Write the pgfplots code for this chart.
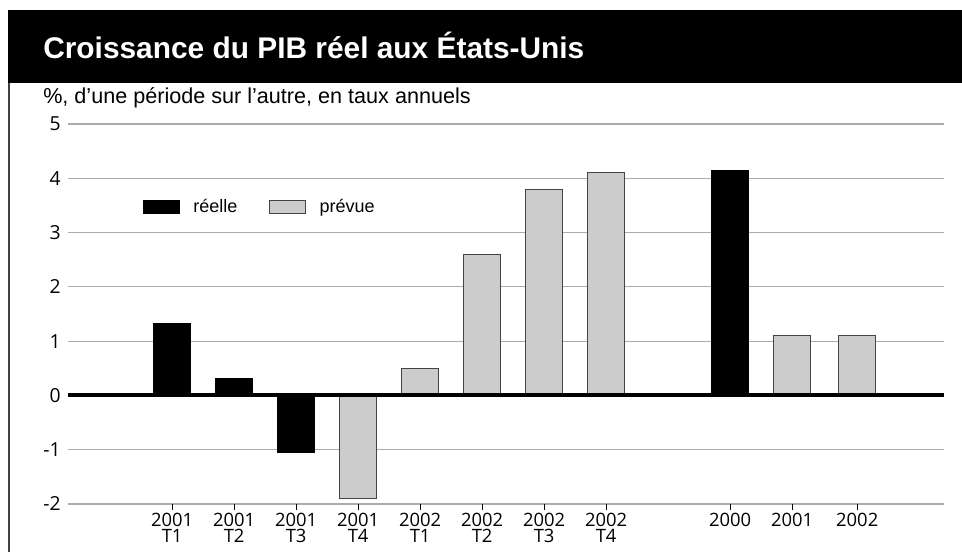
\documentclass[border=0pt]{standalone}
\usepackage{pgfplots}
\pgfplotsset{compat=1.18}
\usepackage{fontspec}
\setmainfont{Liberation Sans}
\newfontfamily\tickfont{Open Sans}
\definecolor{barfill}{HTML}{CCCCCC}
\definecolor{barline}{HTML}{444444}
\definecolor{gridc}{HTML}{ABABAB}
\begin{document}
\begin{tikzpicture}
\path[use as bounding box] (0,0) rectangle (721.5pt,414pt);
\fill[black] (6pt,351.75pt) rectangle (721.5pt,406.5pt);
\draw[black!75, line width=1.5pt] (6.75pt,0pt) -- (6.75pt,352pt);
\node[anchor=base west, text=white, inner sep=0pt, font=\fontsize{22.4}{24}\selectfont\bfseries] at (32.25pt,369.75pt) {Croissance du PIB réel aux États-Unis};
\node[anchor=base west, inner sep=0pt, font=\fontsize{16.2}{18}\selectfont] at (32.25pt,336pt) {\%, d’une période sur l’autre, en taux annuels};
\begin{axis}[
  at={(51pt,36pt)}, anchor=south west,
  scale only axis, width=657pt, height=285pt,
  xmin=-1.68, xmax=12.45, ymin=-2, ymax=5,
  axis lines=left, axis line style={draw=none},
  ytick={-2,-1,0,1,2,3,4,5},
  ymajorgrids, major grid style={gridc, line width=0.9pt},
  ytick style={draw=none},
  yticklabel style={font=\tickfont\fontsize{14.5}{15}\selectfont, inner sep=0pt, xshift=-0.75pt},
  xtick={0,1,2,3,4,5,6,7,9,10,11.05},
  xticklabels={{2001\\T1},{2001\\T2},{2001\\T3},{2001\\T4},{2002\\T1},{2002\\T2},{2002\\T3},{2002\\T4},{2000},{2001},{2002}},
  xticklabel style={font=\tickfont\fontsize{13.8}{12.2}\selectfont, align=center, anchor=north, inner sep=0pt, yshift=-2.25pt},
  xtick style={black, line width=0.75pt},
  tick align=outside, major tick length=4.5pt,
  /pgf/number format/assume math mode=true,
  ybar, bar width=0.6, bar shift=0pt,
  legend image code/.code={\draw[#1] (0pt,-5pt) rectangle (27pt,5pt);},
  legend columns=2,
  legend style={at={(rel axis cs:0.0856,0.7816)}, anchor=west, draw=none, fill=none, inner sep=0pt,
    font=\fontsize{13.5}{15}\selectfont,
    /tikz/every odd column/.append style={column sep=8pt},
    /tikz/every even column/.append style={column sep=22pt}},
]
\addplot[fill=black, draw=black, line width=0.5pt]
  coordinates {(0,1.33) (1,0.31) (2,-1.05) (9,4.15)};
\addlegendentry{réelle}
\addplot[fill=barfill, draw=barline, line width=0.75pt]
  coordinates {(3,-1.9) (4,0.5) (5,2.6) (6,3.8) (7,4.1) (10,1.1) (11.05,1.1)};
\addlegendentry{prévue}
\draw[black, line width=3pt] (axis cs:-1.68,0) -- (axis cs:12.45,0);
\end{axis}
\end{tikzpicture}
\end{document}
